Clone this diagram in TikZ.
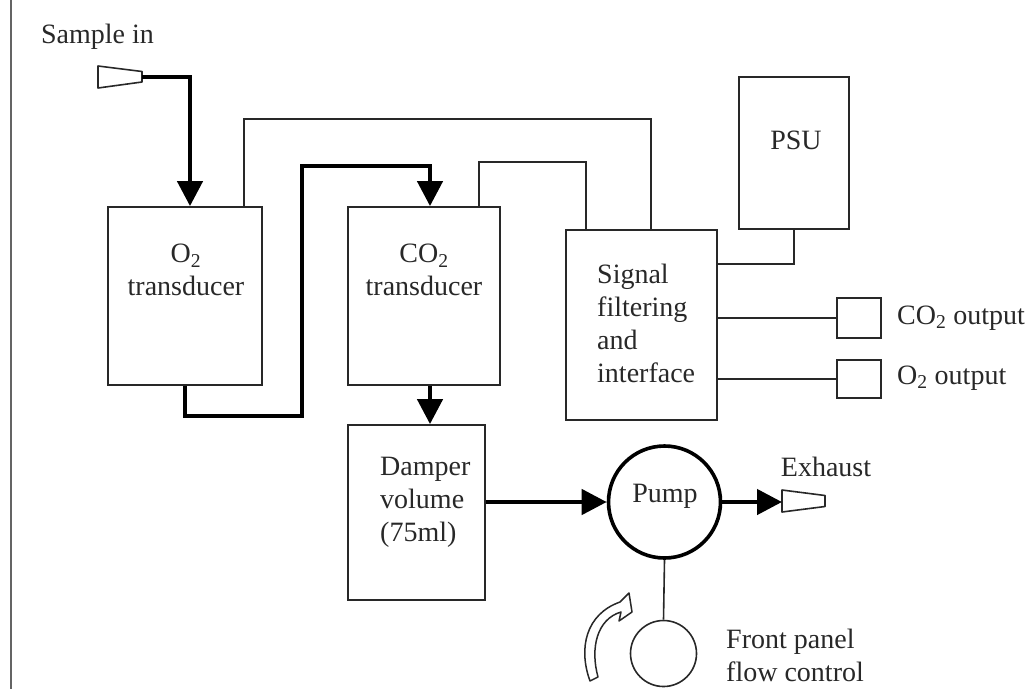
\documentclass[tikz,border=0pt]{standalone}
\usepackage{fontspec}
\setmainfont{Liberation Serif}
\usepackage{xcolor}
\usetikzlibrary{arrows.meta,calc,positioning}
\definecolor{inkgrey}{RGB}{40, 40, 40}
\definecolor{rulegrey}{RGB}{100, 100, 100}

\begin{document}
\begin{tikzpicture}[x=1pt, y=-1pt,
    box/.style={draw=inkgrey, line width=1.8pt, inner sep=0pt},
    wire/.style={draw=inkgrey, line width=1.6pt},
    flow/.style={draw=black, line width=4.5pt, -{Triangle[length=25pt,width=25pt]}},
    nozzle/.style={draw=inkgrey, line width=1.6pt, line join=round},
    txt/.style={font=\fontsize{28}{33}\selectfont, text=inkgrey, inner sep=0pt}]
        \useasboundingbox (0,0) rectangle (1032,689);
        % margin rule
        \draw[rulegrey, line width=2.2pt] (11,0) -- (11,689);

        % Sample inlet
        \node[txt] (samplein) at (97.5,37) {Sample in};
        \coordinate (inlet) at (142,77);
        \draw[nozzle] ($(inlet)+(-44,-11)$) -- ($(inlet)+(0,-5.5)$) -- ($(inlet)+(0,5)$) -- ($(inlet)+(-44,11)$) -- cycle;

        % Transducers
        \node[box, minimum width=154pt, minimum height=178pt] (o2) at (185,296) {};
        \node[txt, align=center] (o2txt) at (186,270) {O\textsubscript{2}\\transducer};
        \node[box, minimum width=152pt, minimum height=178pt] (co2) at (424,296) {};
        \node[txt, align=center] (co2txt) at (424,270) {CO\textsubscript{2}\\transducer};

        % Electronics
        \node[box, minimum width=151pt, minimum height=190pt] (sig) at (641.5,325) {};
        \node[txt, align=left, anchor=west] (sigtxt) at (597,323) {Signal\\filtering\\and\\interface};
        \node[box, minimum width=110pt, minimum height=152pt] (psu) at (794,153) {};
        \node[txt] (psutxt) at (796,140) {PSU};
        \node[box, minimum width=44pt, minimum height=40pt] (co2out) at (859,318) {};
        \node[txt, anchor=west] (co2outtxt) at (897,318) {CO\textsubscript{2} output};
        \node[box, minimum width=44pt, minimum height=38pt] (o2out) at (859,379) {};
        \node[txt, anchor=west] (o2outtxt) at (897,378) {O\textsubscript{2} output};

        % Damper and pump
        \node[box, minimum width=137pt, minimum height=175pt] (damper) at (416.5,512.5) {};
        \node[txt, align=left, anchor=west] (dampertxt) at (380,502) {Damper\\volume\\(75ml)};
        \node[draw=black, circle, line width=3.6pt, minimum size=112pt, inner sep=0pt] (pump) at (664.5,502) {};
        \node[txt] (pumptxt) at (665,496) {Pump};
        \node[txt] (exhausttxt) at (826,467) {Exhaust};
        \coordinate (exhaust) at (782,501);
        \draw[nozzle] (exhaust) ++(0,-11) -- ++(43,5.5) -- ++(0,11) -- ++(-43,5.5) -- cycle;
        \node[draw=inkgrey, circle, line width=1.6pt, minimum size=66pt, inner sep=0pt] (knob) at (663.5,653.5) {};
        \node[txt, align=left, anchor=west] (knobtxt) at (726,655) {Front panel\\flow control};
        \draw[nozzle, line width=1.5pt] (590,681) .. controls (578,648) and (586,614) .. (620,602)
            -- (629,593) -- (632,612) -- (619,621) -- (621,612)
            .. controls (597,619) and (590,648) .. (598,677) -- cycle;

        % Gas path
        \draw[flow] (inlet) -| ($(o2.north)+(5,0)$);
        \draw[flow] (o2.south) -- ++(0,30) -| ++(117,-250) -| ($(co2.north)+(6,0)$);
        \draw[flow] ($(co2.south)+(6,0)$) coordinate (co2drop) -- (co2drop |- damper.north);
        \draw[flow] (damper.east |- pump.west) -- (pump.west);
        \draw[flow] (pump.east) -- (pump.east -| exhaust);
        \draw[wire] (pump.south) -- (knob.north);

        % Signal wiring
        \draw[wire] ($(o2.north east)+(-19,0)$) -- ++(0,-87) -| ($(sig.north west)+(86,0)$);
        \draw[wire] ($(co2.north east)+(-22,0)$) -- ++(0,-44) -| ($(sig.north west)+(21,0)$);
        \draw[wire] (psu.south) |- ($(sig.north east)+(0,35)$);
        \draw[wire] (sig.east |- co2out.west) -- (co2out.west);
        \draw[wire] (sig.east |- o2out.west) -- (o2out.west);
    \end{tikzpicture}
\end{document}
